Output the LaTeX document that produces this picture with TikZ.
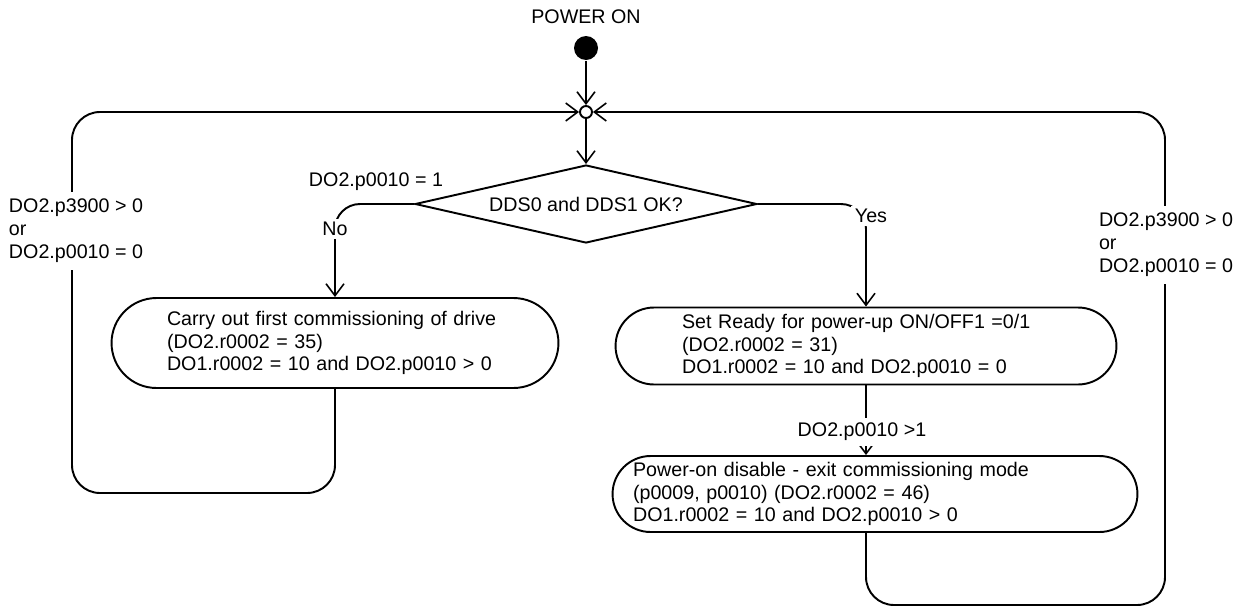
\documentclass[tikz,border=0pt]{standalone}
\usepackage{fontspec}
\setmainfont{Liberation Sans}
\usetikzlibrary{arrows.meta,shapes.geometric}

\begin{document}
\begin{tikzpicture}[x=0.02cm, y=0.02cm,
  font=\fontsize{11.2}{13}\selectfont,
  line width=1.1pt,
  >={Straight Barb[length=2.4mm,width=3.6mm,line width=0.9pt]},
  state/.style={draw, rectangle, align=left},
  cond/.style={fill=white, align=left, inner sep=4pt}]
\tikzstyle{every node}+=[inner sep=0pt]
\useasboundingbox (0,0) rectangle (1244,-613);

\node (poweron) at (586,-17) {POWER ON};
\node [circle, fill=black, minimum size=0.48cm] (start) at (586,-48) {};
\node [circle, draw, fill=white, minimum size=0.24cm] (merge) at (586,-112) {};
\node [diamond, draw, aspect=4.38, minimum width=6.84cm, minimum height=1.56cm] (check) at (586,-204) {DDS0 and DDS1 OK?};

\node [state, minimum width=8.94cm, minimum height=1.8cm, rounded corners=0.9cm, text width=6.72cm] (first) at (335,-343)
  {Carry out first commissioning of drive\\(DO2.r0002 = 35)\\DO1.r0002 = 10 and DO2.p0010 > 0};
\node [state, minimum width=10.02cm, minimum height=1.54cm, rounded corners=0.77cm, text width=7.36cm] (ready) at (866,-346)
  {Set Ready for power-up ON/OFF1 =0/1\\(DO2.r0002 = 31)\\DO1.r0002 = 10 and DO2.p0010 = 0};
\node [state, minimum width=10.5cm, minimum height=1.52cm, rounded corners=0.76cm, text width=9.68cm] (exit) at (875,-494)
  {Power-on disable - exit commissioning mode\\(p0009, p0010) (DO2.r0002 = 46)\\DO1.r0002 = 10 and DO2.p0010 > 0};

\coordinate (lloop) at (72,-493);
\coordinate (rloop) at (1165,-605);

\draw [->] (start) -- (merge);
\draw [->] (merge) -- (check);
\draw [->, rounded corners=0.5cm] (check.west) -| (first.north);
\draw [->, rounded corners=0.5cm] (check.east) -| (ready.north);
\draw [->] (ready) -- (ready |- exit.north);
\draw [->, rounded corners=0.56cm] (first) |- (lloop) |- (merge);
\draw [->, rounded corners=0.56cm] (exit.south -| ready) |- (rloop) |- (merge);

\node (setup) at (376,-182) {DO2.p0010 = 1};
\node [fill=white, inner sep=2pt] (no) at (335,-229) {No};
\node [fill=white, inner sep=2pt] (yes) at (871,-216) {Yes};
\node [fill=white, inner sep=3pt] (leave) at (862,-432) {DO2.p0010 >1};
\node [cond, anchor=west] (lcond) at (1,-231) {DO2.p3900 > 0\\or\\DO2.p0010 = 0};
\node [cond, anchor=west] (rcond) at (1091,-245) {DO2.p3900 > 0\\or\\DO2.p0010 = 0};
\end{tikzpicture}
\end{document}
